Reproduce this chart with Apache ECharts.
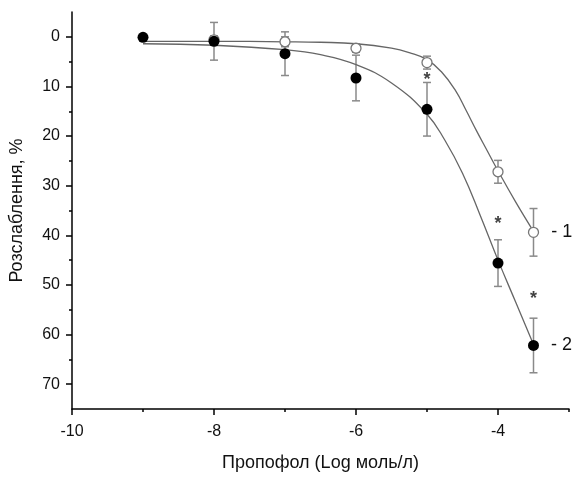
<!DOCTYPE html>
<html>
<head>
<meta charset="utf-8">
<script src="https://cdn.jsdelivr.net/npm/echarts@6/dist/echarts.min.js"></script>
<style>
html, body { margin: 0; background: #fff; }
#chart { width: 576px; height: 477px; }
</style>
</head>
<body>
<div id="chart"></div>
<script>
// точки досліду (log концентрації)
var doseAll = [-9, -8, -7, -6, -5, -4, -3.5];
var dose1 = [-8, -7, -6, -5, -4, -3.5];
var relax1 = [0.6, 1.0, 2.3, 5.2, 27.2, 39.4];
var err1 = [0.8, 1.0, 0.8, 1.3, 2.3, 4.8];
var relax2 = [0.1, 0.9, 3.4, 8.3, 14.6, 45.6, 62.2];
var err2 = [0, 3.8, 4.4, 4.6, 5.4, 4.7, 5.5];

// апроксимуючі криві
var fitX1 = [-9, -8, -7, -6.5, -6, -5.5, -5.25, -5, -4.8, -4.6, -4.45, -4.3, -4.15, -4, -3.75, -3.5];
var fitY1 = [0.9, 0.9, 1.0, 1.1, 1.4, 2.3, 3.2, 4.6, 7.0, 10.8, 14.8, 19.0, 23.0, 27.0, 33.3, 39.2];
var fitX2 = [-9, -8, -7, -6.5, -6, -5.5, -5, -4.75, -4.5, -4.25, -4, -3.75, -3.5];
var fitY2 = [1.4, 1.7, 2.6, 3.6, 5.6, 9.3, 15.6, 20.8, 27.5, 36.0, 45.0, 53.5, 62.0];

// зірочки
var starX = [-5, -4, -3.5];
var starY = [8, 37, 52];

var xLabels = [-10, -8, -6, -4];
var xMinor = [-9, -7, -5, -3];
var yLabels = [0, 10, 20, 30, 40, 50, 60, 70];
var yMinor = [5, 15, 25, 35, 45, 55, 65];

function pairs(xs, ys) {
    var out = [];
    for (var i = 0; i < xs.length; i++) out.push([xs[i], ys[i]]);
    return out;
}
function bars(xs, ys, es) {
    var out = [];
    for (var i = 0; i < xs.length; i++) {
        if (es[i] > 0) out.push([xs[i], ys[i] - es[i], ys[i] + es[i]]);
    }
    return out;
}
function errRender(params, api) {
    var top = api.coord([api.value(0), api.value(1)]);
    var bot = api.coord([api.value(0), api.value(2)]);
    var st = { stroke: '#8a8a8a', lineWidth: 1.5 };
    return {
        type: 'group',
        children: [
            { type: 'line', shape: { x1: top[0], y1: top[1], x2: bot[0], y2: bot[1] }, style: st },
            { type: 'line', shape: { x1: top[0] - 4, y1: top[1], x2: top[0] + 4, y2: top[1] }, style: st },
            { type: 'line', shape: { x1: bot[0] - 4, y1: bot[1], x2: bot[0] + 4, y2: bot[1] }, style: st }
        ]
    };
}

var pts1 = pairs(dose1, relax1);
var pts2 = pairs(doseAll, relax2);
pts1[pts1.length - 1] = { value: pts1[pts1.length - 1], label: { show: true, formatter: '- 1' } };
pts2[pts2.length - 1] = { value: pts2[pts2.length - 1], label: { show: true, formatter: '- 2' } };

var font = 'Liberation Sans, Arial, sans-serif';
var axisBlack = { onZero: false, lineStyle: { color: '#000', width: 1.5 } };

var chart = echarts.init(document.getElementById('chart'));
chart.setOption({
    animation: false,
    backgroundColor: '#fff',
    grid: { left: 72, right: 7, top: 12, bottom: 65 },
    xAxis: [{
        type: 'value', min: -10, max: -3, position: 'bottom',
        name: 'Пропофол (Log моль/л)', nameLocation: 'middle', nameGap: 45,
        nameTextStyle: { fontFamily: font, fontSize: 18, color: '#111' },
        axisLine: axisBlack,
        axisTick: { length: 6, lineStyle: { color: '#000', width: 1.5 }, customValues: xLabels },
        axisLabel: { customValues: xLabels, fontFamily: font, fontSize: 16, color: '#111', margin: 15 },
        splitLine: { show: false }
    }, {
        type: 'value', min: -10, max: -3, position: 'bottom',
        axisLine: { show: false, onZero: false },
        axisTick: { length: 3, lineStyle: { color: '#000', width: 1.5 }, customValues: xMinor },
        axisLabel: { show: false },
        splitLine: { show: false }
    }],
    yAxis: [{
        type: 'value', min: -5, max: 75, inverse: true, position: 'left',
        name: 'Розслаблення, %', nameLocation: 'middle', nameGap: 46,
        nameTextStyle: { fontFamily: font, fontSize: 18, color: '#111' },
        axisLine: axisBlack,
        axisTick: { length: 6, lineStyle: { color: '#000', width: 1.5 }, customValues: yLabels },
        axisLabel: { customValues: yLabels, fontFamily: font, fontSize: 16, color: '#111', margin: 12 },
        splitLine: { show: false }
    }, {
        type: 'value', min: -5, max: 75, inverse: true, position: 'left',
        axisLine: { show: false, onZero: false },
        axisTick: { length: 3, lineStyle: { color: '#000', width: 1.5 }, customValues: yMinor },
        axisLabel: { show: false },
        splitLine: { show: false }
    }],
    series: [
        {
            type: 'custom', renderItem: errRender, z: 1,
            data: bars(dose1, relax1, err1)
        },
        {
            type: 'custom', renderItem: errRender, z: 1,
            data: bars(doseAll, relax2, err2)
        },
        {
            type: 'line', smooth: 0.45, showSymbol: false, z: 2,
            lineStyle: { color: '#666', width: 1.3 },
            data: pairs(fitX1, fitY1)
        },
        {
            type: 'line', smooth: 0.45, showSymbol: false, z: 2,
            lineStyle: { color: '#666', width: 1.3 },
            data: pairs(fitX2, fitY2)
        },
        {
            type: 'scatter', symbol: 'circle', symbolSize: 10, z: 3,
            itemStyle: { color: '#fff', borderColor: '#777', borderWidth: 1.3, opacity: 1 },
            label: { show: false, position: 'right', distance: 12, fontFamily: font, fontSize: 18, color: '#111' },
            data: pts1
        },
        {
            type: 'scatter', symbol: 'circle', symbolSize: 11, z: 4,
            itemStyle: { color: '#000', opacity: 1 },
            label: { show: false, position: 'right', distance: 12, fontFamily: font, fontSize: 18, color: '#111' },
            data: pts2
        },
        {
            type: 'scatter', symbol: 'circle', symbolSize: 2, z: 5,
            itemStyle: { color: 'rgba(0,0,0,0)' },
            label: { show: true, position: 'inside', formatter: '*', fontFamily: font, fontSize: 18, fontWeight: 'bold', color: '#111', offset: [0, 4] },
            data: pairs(starX, starY)
        }
    ]
});
</script>
</body>
</html>
